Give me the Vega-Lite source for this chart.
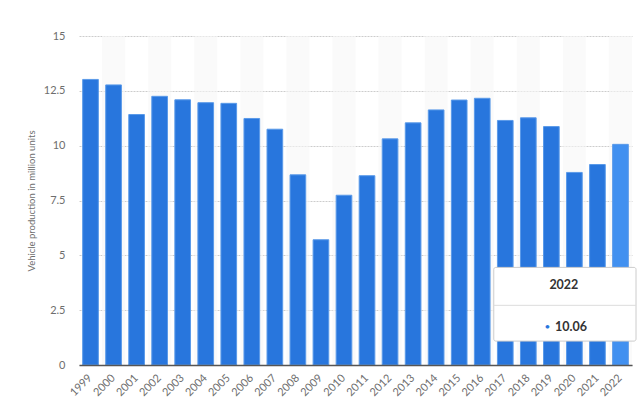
{
  "$schema": "https://vega.github.io/schema/vega-lite/v6.json",
  "width": 553,
  "height": 329,
  "autosize": "none",
  "padding": {"left": 79, "top": 36, "right": 8, "bottom": 52},
  "background": "white",
  "config": {"view": {"stroke": null}, "font": "Lato"},
  "data": {"values": [
    {"year": 1999, "value": 13.02},
    {"year": 2000, "value": 12.77},
    {"year": 2001, "value": 11.42},
    {"year": 2002, "value": 12.25},
    {"year": 2003, "value": 12.09},
    {"year": 2004, "value": 11.96},
    {"year": 2005, "value": 11.93},
    {"year": 2006, "value": 11.24},
    {"year": 2007, "value": 10.75},
    {"year": 2008, "value": 8.67},
    {"year": 2009, "value": 5.71},
    {"year": 2010, "value": 7.74},
    {"year": 2011, "value": 8.63},
    {"year": 2012, "value": 10.31},
    {"year": 2013, "value": 11.04},
    {"year": 2014, "value": 11.63},
    {"year": 2015, "value": 12.08},
    {"year": 2016, "value": 12.16},
    {"year": 2017, "value": 11.15},
    {"year": 2018, "value": 11.27},
    {"year": 2019, "value": 10.87},
    {"year": 2020, "value": 8.78},
    {"year": 2021, "value": 9.14},
    {"year": 2022, "value": 10.06}
  ]},
  "layer": [
    {
      "transform": [{"filter": "datum.year % 2 == 0"}],
      "mark": {"type": "rect", "color": "#f6f6f6", "opacity": 0.6},
      "encoding": {
        "x": {"field": "year", "type": "ordinal", "scale": {"paddingInner": 0, "paddingOuter": 0},
          "axis": {"title": null, "labelAngle": -45, "labelAlign": "right", "labelBaseline": "middle", "labelPadding": 11, "labelFontSize": 11, "labelColor": "#6e6e6e", "ticks": false, "domainColor": "#555555", "domainWidth": 1.5}},
        "y": {"datum": 0, "type": "quantitative"},
        "y2": {"datum": 15}
      }
    },
    {
      "mark": {"type": "bar", "width": {"band": 0.68}, "stroke": "#5a9ae9", "strokeWidth": 1},
      "encoding": {
        "x": {"field": "year", "type": "ordinal"},
        "y": {"field": "value", "type": "quantitative",
          "scale": {"domain": [0, 15], "nice": false},
          "axis": {"title": "Vehicle production in million units", "titleFontSize": 9.5, "titleFontWeight": "normal", "titleColor": "#6e6e6e", "titlePadding": 7,
            "values": [0, 2.5, 5, 7.5, 10, 12.5, 15], "labelExpr": "'' + datum.value", "labelFontSize": 11, "labelColor": "#6e6e6e", "labelPadding": 14,
            "domain": false, "ticks": false, "grid": true, "gridColor": "#cccccc", "gridDash": [2, 1], "gridWidth": 1, "gridOpacity": 1}},
        "color": {"condition": {"test": "datum.year === 2022", "value": "#4190f0"}, "value": "#2876dd"}
      }
    },
    {
      "data": {"values": [{"label": "2022", "value": "10.06", "dot": "•"}]},
      "layer": [
        {
          "mark": {"type": "rect", "fill": "white", "stroke": "#cccccc", "strokeWidth": 1, "cornerRadius": 2, "x2Offset": 4},
          "encoding": {
            "x": {"datum": 2017, "type": "ordinal", "bandPosition": 0},
            "x2": {"datum": 2022, "bandPosition": 1},
            "y": {"datum": 4.45, "type": "quantitative"},
            "y2": {"datum": 1.09}
          }
        },
        {
          "mark": {"type": "rule", "color": "#dddddd", "strokeWidth": 1, "x2Offset": 4},
          "encoding": {
            "x": {"datum": 2017, "type": "ordinal", "bandPosition": 0},
            "x2": {"datum": 2022, "bandPosition": 1},
            "y": {"datum": 2.72, "type": "quantitative"}
          }
        },
        {
          "mark": {"type": "text", "fontSize": 12.5, "fontWeight": "bold", "color": "#333333", "align": "center", "baseline": "middle", "xOffset": 1},
          "encoding": {
            "x": {"datum": 2020, "type": "ordinal", "bandPosition": 0},
            "y": {"datum": 3.65, "type": "quantitative"},
            "text": {"field": "label"}
          }
        },
        {
          "mark": {"type": "text", "fontSize": 10, "color": "#2876dd", "align": "center", "baseline": "middle"},
          "encoding": {
            "x": {"datum": 2019, "type": "ordinal", "bandPosition": 0.33},
            "y": {"datum": 1.72, "type": "quantitative"},
            "text": {"field": "dot"}
          }
        },
        {
          "mark": {"type": "text", "fontSize": 12.5, "fontWeight": "bold", "color": "#333333", "align": "left", "baseline": "middle"},
          "encoding": {
            "x": {"datum": 2019, "type": "ordinal", "bandPosition": 0.66},
            "y": {"datum": 1.72, "type": "quantitative"},
            "text": {"field": "value"}
          }
        }
      ]
    }
  ]
}
